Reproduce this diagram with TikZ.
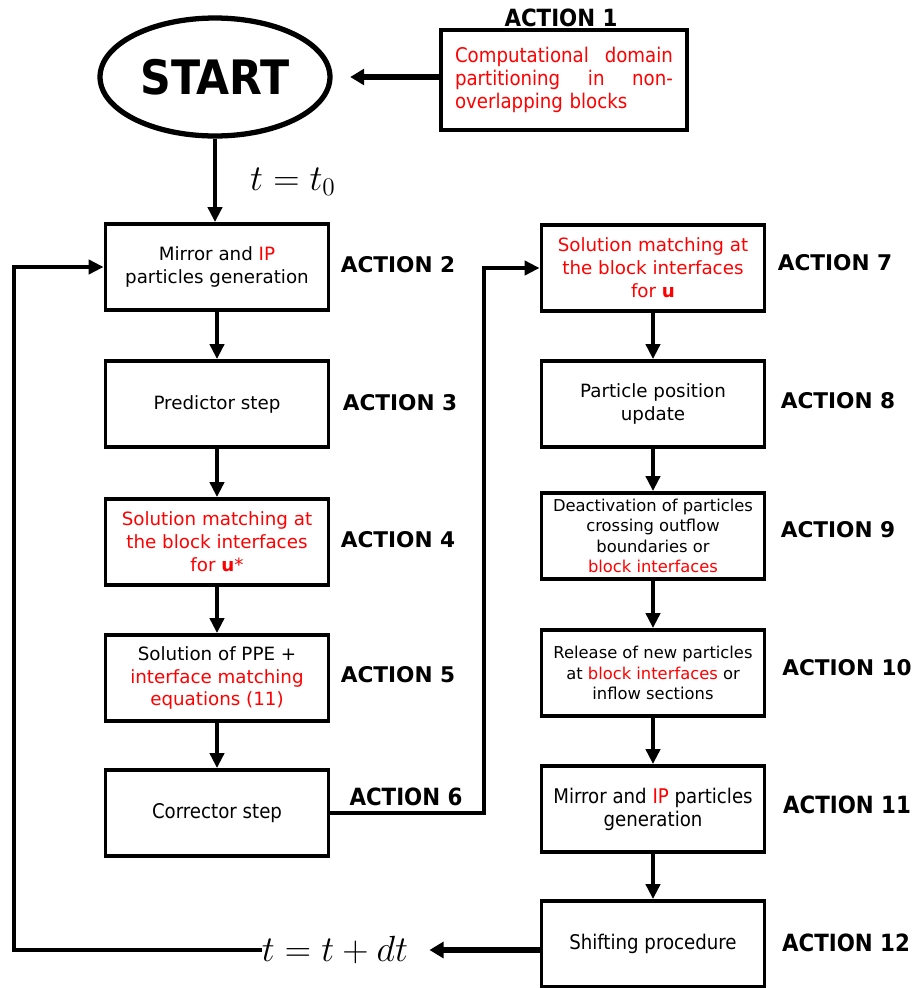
\documentclass[tikz,border=0pt]{standalone}
\usepackage[no-math]{fontspec}
\setmainfont{DejaVu Sans}
\newfontfamily\condfont{DejaVu Sans Condensed}
\usetikzlibrary{shapes.geometric,arrows.meta}

\begin{document}
\begin{tikzpicture}[
  x=0.02cm, y=-0.02cm,
  stepbox/.style={draw, line width=2.2pt, minimum width=4.46cm, minimum height=1.72cm,
    align=center, inner sep=2pt, font=\fontsize{10.4}{13}\selectfont},
  smallbox/.style={stepbox, font=\fontsize{9.3}{11.7}\selectfont},
  condbox/.style={stepbox, font=\condfont\fontsize{11.5}{13}\selectfont},
  actlabel/.style={font=\bfseries\fontsize{12.3}{14}\selectfont},
  condlabel/.style={font=\condfont\bfseries\fontsize{13.5}{16}\selectfont},
  timelabel/.style={inner sep=0pt, font=\fontsize{20.5}{24}\selectfont},
  flow/.style={line width=2.2pt, -{Triangle[length=8.5pt,width=8pt]}},
  bigflow/.style={line width=3.4pt, -{Triangle[length=8pt,width=9pt]}},
]
\useasboundingbox (0,0) rectangle (917,988);

% start and domain partitioning
\node[ellipse, draw, line width=3pt, minimum width=4.6cm, minimum height=2.36cm,
  font=\condfont\bfseries\fontsize{27}{30}\selectfont] (start) at (215,77) {START};
\node[draw, line width=2.2pt, minimum width=4.92cm, minimum height=2cm, text width=4.36cm,
  align=left, text=red, font=\condfont\fontsize{11.5}{13}\selectfont] (partition) at (564,80)
  {Computational\hfill domain\\ partitioning\hfill in\hfill non-\\ overlapping blocks};
\node[condlabel] (act1) at (561,18) {ACTION 1};

% left column
\node[stepbox] (mirror) at (217,267) {Mirror and {\color{red}IP}\\particles generation};
\node[stepbox] (predictor) at (217,404) {Predictor step};
\node[stepbox, text=red] (matchstar) at (217,542) {Solution matching at\\the block interfaces\\for \textbf{u}*};
\node[stepbox] (ppe) at (217,678) {Solution of PPE +\\{\color{red}interface matching}\\{\color{red}equations (11)}};
\node[condbox] (corrector) at (217,813) {Corrector step};

% right column
\node[stepbox, text=red] (matchu) at (653,268) {Solution matching at\\the block interfaces\\for \textbf{u}};
\node[stepbox] (position) at (653,404) {Particle position\\update};
\node[smallbox] (deactivation) at (653,536) {Deactivation of particles\\crossing outflow\\boundaries or\\{\color{red}block interfaces}};
\node[smallbox] (release) at (653,673) {Release of new particles\\at {\color{red}block interfaces} or\\inflow sections};
\node[condbox] (mirrorb) at (653,809) {Mirror and {\color{red}IP} particles\\generation};
\node[condbox] (shifting) at (653,944) {Shifting procedure};

% action labels
\node[actlabel] (act2) at (398,265) {ACTION 2};
\node[actlabel] (act3) at (400,403) {ACTION 3};
\node[actlabel] (act4) at (398,540) {ACTION 4};
\node[actlabel] (act5) at (398,675) {ACTION 5};
\node[condlabel] (act6) at (406,797) {ACTION 6};
\node[actlabel] (act7) at (835,263) {ACTION 7};
\node[actlabel] (act8) at (838,401) {ACTION 8};
\node[actlabel] (act9) at (838,530) {ACTION 9};
\node[actlabel] (act10) at (847,668) {ACTION 10};
\node[condlabel] (act11) at (847,805) {ACTION 11};
\node[condlabel] (act12) at (846,943) {ACTION 12};

% time labels
\node[timelabel] (tzero) at (293,182) {$t=t_0$};
\node[timelabel] (tstep) at (335,950) {$t=t+dt$};

% connectors
\draw[bigflow, shorten >=10pt] (partition.west |- start.east) -- (start.east);
\draw[flow] (start.south) -- (start.south |- mirror.north);
\foreach \a/\b in {mirror/predictor, predictor/matchstar, matchstar/ppe, ppe/corrector,
  matchu/position, position/deactivation, deactivation/release, release/mirrorb, mirrorb/shifting}
  \draw[flow] (\a) -- (\b);
\coordinate (jump) at (484,813);
\draw[flow] (corrector.east) -- (jump) |- (matchu.west);
\draw[bigflow, shorten >=12pt] (shifting.west |- tstep.east) -- (tstep.east);
\coordinate (loop) at (14,950);
\draw[flow] (tstep.west) -- (loop) |- (mirror.west);
\end{tikzpicture}
\end{document}
